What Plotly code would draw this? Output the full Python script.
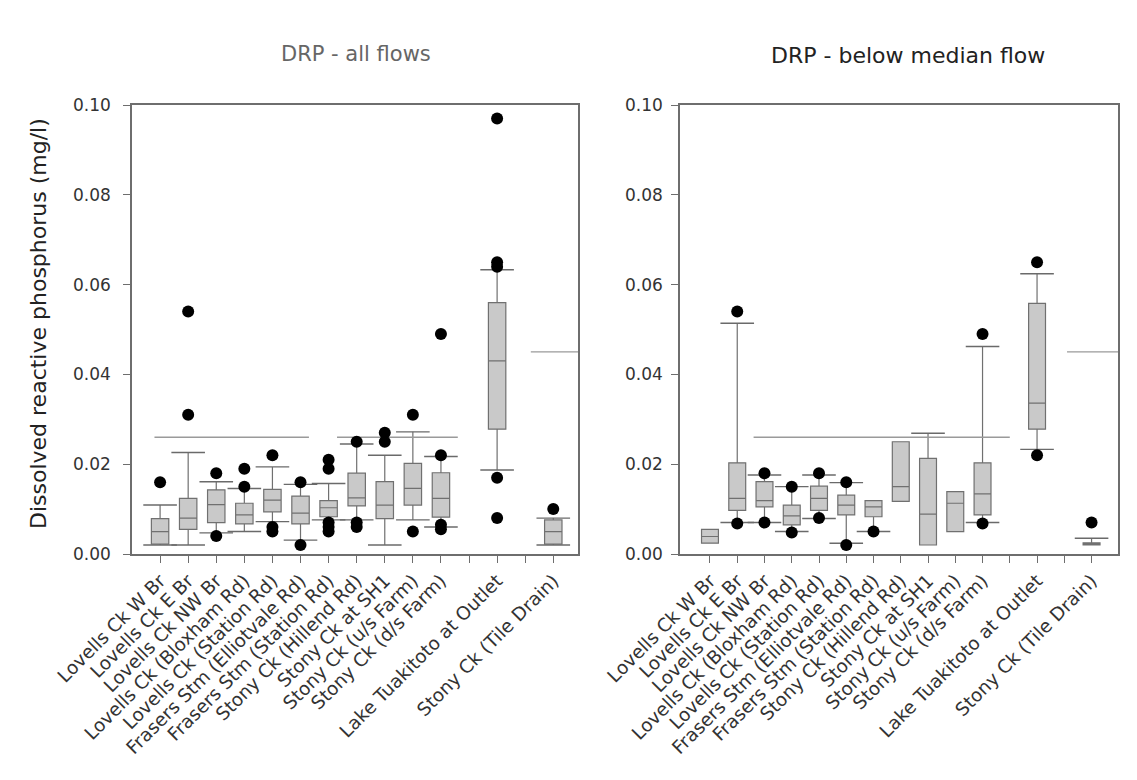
import plotly.graph_objects as go

# ---------------- data ----------------
categories = ["Lovells Ck W Br", "Lovells Ck E Br", "Lovells Ck NW Br",
              "Lovells Ck (Bloxham Rd)", "Lovells Ck (Station Rd)",
              "Frasers Stm (Elliotvale Rd)", "Frasers Stm (Station Rd)",
              "Stony Ck (Hillend Rd)", "Stony Ck at SH1", "Stony Ck (u/s Farm)",
              "Stony Ck (d/s Farm)", "Lake Tuakitoto at Outlet", "Stony Ck (Tile Drain)"]
positions = [1, 2, 3, 4, 5, 6, 7, 8, 9, 10, 11, 13, 15]
tick_slots = list(range(1, 16))

# DRP - all flows
all_q1 = [0.0022, 0.0055, 0.0070, 0.0067, 0.0094, 0.0067, 0.0083, 0.0107, 0.0079, 0.0109, 0.0082, 0.0278, 0.0022]
all_med = [0.0050, 0.0080, 0.0110, 0.0087, 0.0120, 0.0091, 0.0103, 0.0125, 0.0109, 0.0146, 0.0124, 0.0430, 0.0050]
all_q3 = [0.0079, 0.0124, 0.0143, 0.0113, 0.0144, 0.0129, 0.0119, 0.0180, 0.0161, 0.0202, 0.0181, 0.0560, 0.0076]
all_lo = [0.0020, 0.0020, 0.0047, 0.0050, 0.0072, 0.0031, 0.0076, 0.0076, 0.0020, 0.0076, 0.0060, 0.0187, 0.0020]
all_hi = [0.0109, 0.0226, 0.0161, 0.0146, 0.0194, 0.0155, 0.0157, 0.0245, 0.0220, 0.0272, 0.0217, 0.0633, 0.0080]
all_out = [[0.016], [0.054, 0.031], [0.018, 0.004], [0.019, 0.015], [0.022, 0.006, 0.005],
           [0.016, 0.002], [0.021, 0.019, 0.007, 0.006, 0.005], [0.025, 0.007, 0.006],
           [0.027, 0.025], [0.031, 0.005], [0.049, 0.022, 0.0065, 0.0055],
           [0.097, 0.065, 0.064, 0.017, 0.008], [0.010]]

# DRP - below median flow
low_q1 = [0.0024, 0.0097, 0.0105, 0.0065, 0.0097, 0.0087, 0.0083, 0.0117, 0.0020, 0.0050, 0.0087, 0.0278, 0.0020]
low_med = [0.0039, 0.0124, 0.0119, 0.0085, 0.0124, 0.0109, 0.0105, 0.0150, 0.0089, 0.0113, 0.0134, 0.0336, 0.0021]
low_q3 = [0.0055, 0.0203, 0.0161, 0.0109, 0.0151, 0.0131, 0.0119, 0.0250, 0.0213, 0.0139, 0.0203, 0.0558, 0.0025]
low_lo = [0.0024, 0.0070, 0.0070, 0.0050, 0.0079, 0.0024, 0.0050, 0.0117, 0.0020, 0.0050, 0.0070, 0.0233, 0.0020]
low_hi = [0.0055, 0.0514, 0.0176, 0.0150, 0.0176, 0.0159, 0.0119, 0.0250, 0.0269, 0.0139, 0.0462, 0.0624, 0.0035]
low_out = [[], [0.054, 0.0068], [0.018, 0.007], [0.015, 0.0048], [0.018, 0.008], [0.016, 0.002],
           [0.005], [], [], [], [0.049, 0.0068], [0.065, 0.022], [0.007]]

# guideline values (mg/l) and the category spans they cover
guide_all = [(0.026, 0.8, 6.3), (0.026, 7.3, 11.6), (0.045, 14.2, 15.9)]
guide_low = [(0.026, 2.6, 12.0), (0.045, 14.1, 16.0)]

titles = ["DRP - all flows", "DRP - below median flow"]
y_title = "Dissolved reactive phosphorus (mg/l)"

# ---------------- figure ----------------
FONT = "DejaVu Sans"
BOX_FILL = "#c9c9c9"
BOX_LINE = "#707070"

fig = go.Figure()


def add_panel(xa, ya, q1, med, q3, lo, hi, outs, guides):
    for val, x0, x1 in guides:
        fig.add_trace(go.Scatter(x=[x0, x1], y=[val, val], mode="lines",
                                 line=dict(color="#9a9a9a", width=1.3),
                                 xaxis=xa, yaxis=ya, showlegend=False, hoverinfo="skip"))
    fig.add_trace(go.Box(x=positions, q1=q1, median=med, q3=q3,
                         lowerfence=lo, upperfence=hi, width=0.62,
                         whiskerwidth=0, boxpoints=False,
                         fillcolor=BOX_FILL, line=dict(color=BOX_LINE, width=1.2),
                         xaxis=xa, yaxis=ya, showlegend=False))
    cx, cy = [], []
    for p, a, b, l, h in zip(positions, q1, q3, lo, hi):
        if l < a:
            cx.append(p); cy.append(l)
        if h > b:
            cx.append(p); cy.append(h)
    fig.add_trace(go.Scatter(x=cx, y=cy, mode="markers",
                             marker=dict(symbol="line-ew", size=24,
                                         line=dict(color="#6a6a6a", width=1.4)),
                             xaxis=xa, yaxis=ya, showlegend=False, hoverinfo="skip"))
    ox, oy = [], []
    for p, vals in zip(positions, outs):
        for v in vals:
            ox.append(p); oy.append(v)
    fig.add_trace(go.Scatter(x=ox, y=oy, mode="markers",
                             marker=dict(color="black", size=12),
                             xaxis=xa, yaxis=ya, showlegend=False))


add_panel("x", "y", all_q1, all_med, all_q3, all_lo, all_hi, all_out, guide_all)
add_panel("x2", "y2", low_q1, low_med, low_q3, low_lo, low_hi, low_out, guide_low)

lab = {p: c for p, c in zip(positions, categories)}
ticktext = [lab.get(t, "") for t in tick_slots]

axis_common = dict(showline=True, mirror=True, linecolor="#6e6e6e", linewidth=1.5,
                   ticks="outside", ticklen=7, tickcolor="#6e6e6e", showgrid=False,
                   zeroline=False, automargin=False,
                   tickfont=dict(family=FONT, size=17, color="#333333"))

xcommon = dict(axis_common, tickvals=tick_slots, ticktext=ticktext, tickangle=-45,
               tickfont=dict(family=FONT, size=18.5, color="#333333"))
ycommon = dict(axis_common, range=[0, 0.1], dtick=0.02, tickformat=".2f")

ydom = [1 - 554 / 780, 1 - 105 / 780]
fig.update_layout(
    width=1137, height=780,
    margin=dict(l=0, r=0, t=0, b=0),
    paper_bgcolor="white", plot_bgcolor="white",
    template="none",
    xaxis=dict(xcommon, domain=[132 / 1137, 578 / 1137], range=[0.0, 15.88], anchor="y"),
    yaxis=dict(ycommon, domain=ydom, anchor="x", ticklabelstandoff=9),
    xaxis2=dict(xcommon, domain=[680 / 1137, 1118 / 1137], range=[-0.1, 15.97], anchor="y2"),
    yaxis2=dict(ycommon, domain=ydom, anchor="x2", ticklabelstandoff=5),
    annotations=[
        dict(text=titles[0], x=356 / 1137, y=1 - 54 / 780, xref="paper", yref="paper",
             xanchor="center", yanchor="middle",
             showarrow=False, font=dict(family=FONT, size=21, color="#666666")),
        dict(text=titles[1], x=908 / 1137, y=1 - 56 / 780, xref="paper", yref="paper",
             xanchor="center", yanchor="middle",
             showarrow=False, font=dict(family=FONT, size=22, color="#222222")),
        dict(text=y_title, x=38 / 1137, y=1 - 324 / 780, xref="paper", yref="paper",
             xanchor="center", yanchor="middle",
             textangle=-90, showarrow=False, font=dict(family=FONT, size=22, color="#222222")),
    ],
)

fig.write_html("out.html")
